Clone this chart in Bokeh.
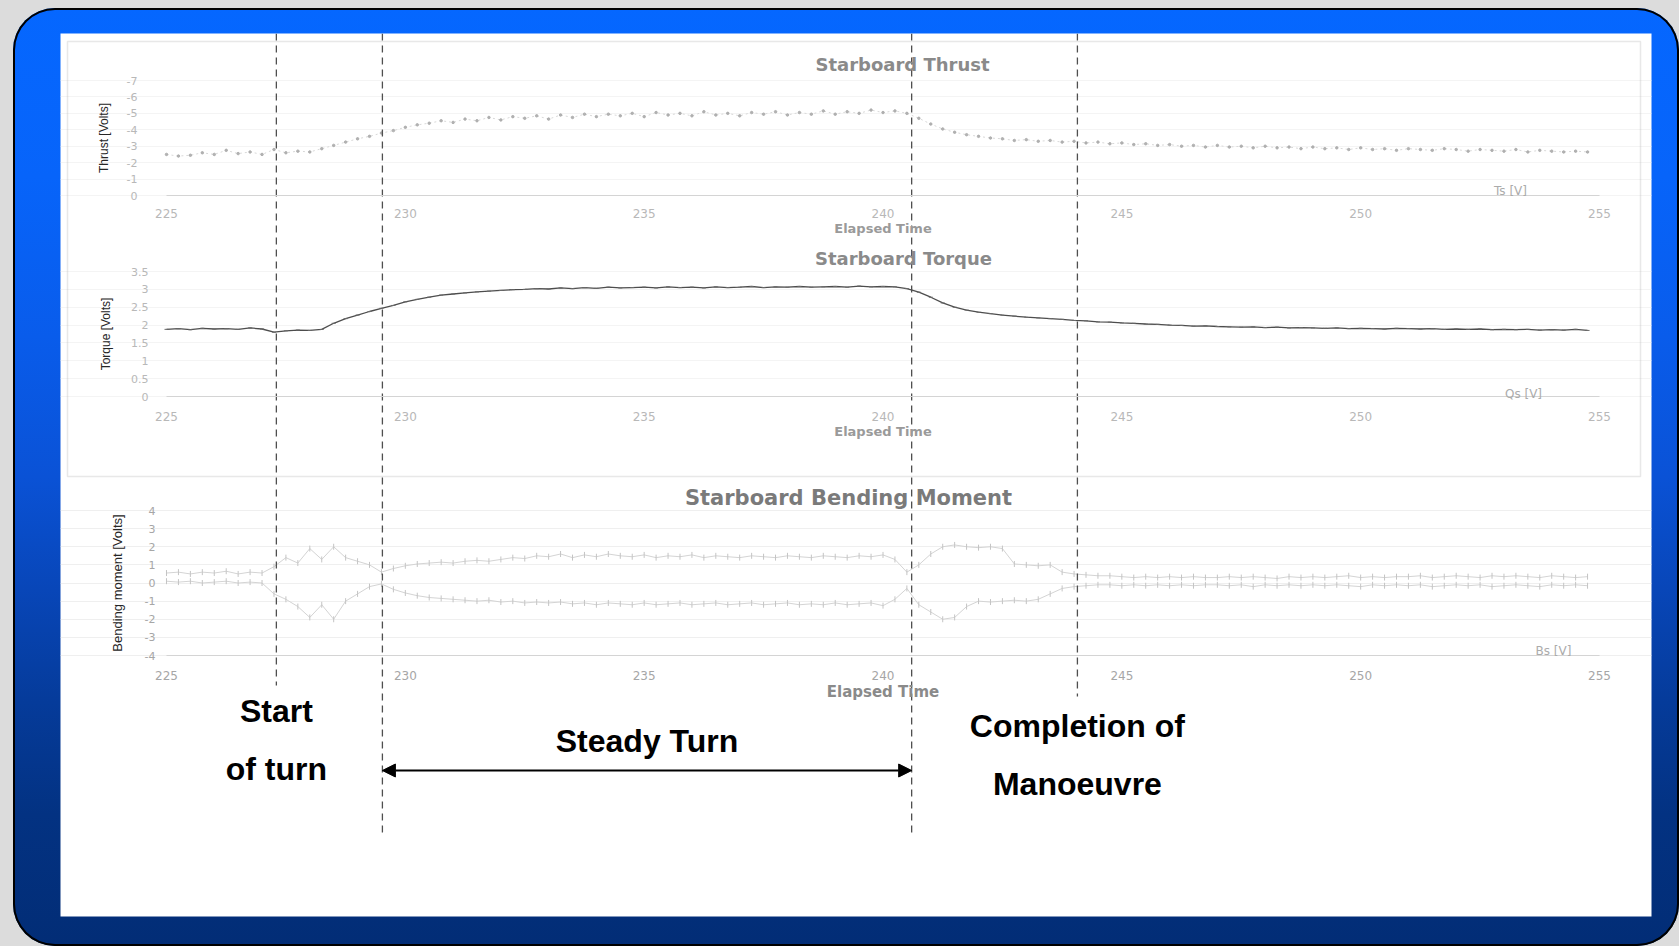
import numpy as np
from bokeh.plotting import figure
from bokeh.layouts import column
from bokeh.models import (Range1d, LinearAxis, FixedTicker, Grid, Label, Arrow,
                          NormalHead, BoxAnnotation, NumeralTickFormatter)
from bokeh.core.properties import value
from bokeh.embed import file_html
from bokeh.resources import INLINE

# ---------------- data ----------------
time_s = np.arange(225.0, 255.0, 0.25)          # sample times, 120 samples

thrust_v = [
    -2.5, -2.4, -2.45, -2.6, -2.5, -2.75, -2.55, -2.65,
    -2.5, -2.8, -2.6, -2.7, -2.65, -2.85, -3.05, -3.25,
    -3.45, -3.6, -3.8, -3.95, -4.15, -4.3, -4.4, -4.55,
    -4.45, -4.65, -4.55, -4.75, -4.6, -4.8, -4.7, -4.85,
    -4.65, -4.9, -4.75, -4.95, -4.8, -4.95, -4.85, -5.0,
    -4.8, -5.05, -4.9, -5.0, -4.85, -5.1, -4.9, -5.0,
    -4.85, -5.05, -4.95, -5.1, -4.9, -5.05, -4.95, -5.15,
    -4.95, -5.1, -5.0, -5.2, -5.05, -5.15, -5.0, -4.7,
    -4.35, -4.05, -3.85, -3.7, -3.6, -3.5, -3.45, -3.35,
    -3.4, -3.3, -3.35, -3.25, -3.3, -3.2, -3.25, -3.15,
    -3.2, -3.1, -3.15, -3.05, -3.1, -3.0, -3.05, -2.95,
    -3.05, -2.95, -3.0, -2.9, -3.0, -2.9, -2.95, -2.85,
    -2.95, -2.85, -2.9, -2.8, -2.9, -2.8, -2.85, -2.75,
    -2.85, -2.8, -2.75, -2.85, -2.8, -2.7, -2.8, -2.75,
    -2.7, -2.8, -2.65, -2.75, -2.7, -2.65, -2.7, -2.65,
]

torque_v = [
    1.88, 1.90, 1.87, 1.91, 1.89, 1.90, 1.88, 1.92,
    1.89, 1.80, 1.84, 1.86, 1.85, 1.88, 2.05, 2.18,
    2.28, 2.38, 2.47, 2.55, 2.65, 2.72, 2.78, 2.84,
    2.87, 2.90, 2.93, 2.95, 2.97, 2.99, 3.00, 3.02,
    3.01, 3.04, 3.02, 3.05, 3.03, 3.06, 3.04, 3.05,
    3.06, 3.04, 3.07, 3.05, 3.06, 3.04, 3.07, 3.05,
    3.06, 3.08, 3.05, 3.07, 3.06, 3.08, 3.06, 3.07,
    3.08, 3.06, 3.09, 3.07, 3.08, 3.07, 3.02, 2.92,
    2.78, 2.62, 2.50, 2.42, 2.36, 2.32, 2.28, 2.25,
    2.22, 2.20, 2.18, 2.16, 2.13, 2.12, 2.09, 2.08,
    2.06, 2.05, 2.03, 2.02, 2.00, 1.99, 1.97, 1.98,
    1.96, 1.95, 1.94, 1.95, 1.93, 1.94, 1.92, 1.93,
    1.92, 1.91, 1.92, 1.90, 1.91, 1.90, 1.89, 1.91,
    1.90, 1.89, 1.90, 1.88, 1.89, 1.88, 1.89, 1.87,
    1.88, 1.87, 1.88, 1.86, 1.87, 1.86, 1.88, 1.85,
]

bend_upper = [
    0.55, 0.6, 0.5, 0.6, 0.55, 0.65, 0.5, 0.6,
    0.55, 0.9, 1.4, 1.1, 1.9, 1.3, 2.0, 1.4,
    1.2, 1.0, 0.6, 0.8, 0.95, 1.05, 1.1, 1.15,
    1.1, 1.2, 1.25, 1.2, 1.3, 1.4, 1.35, 1.5,
    1.45, 1.6, 1.4, 1.55, 1.45, 1.6, 1.5, 1.45,
    1.55, 1.4, 1.5, 1.45, 1.55, 1.4, 1.5, 1.45,
    1.4, 1.5, 1.45, 1.4, 1.5, 1.45, 1.4, 1.5,
    1.45, 1.4, 1.5, 1.45, 1.55, 1.3, 0.6, 1.0,
    1.6, 2.0, 2.1, 2.0, 1.95, 2.0, 1.9, 1.05,
    1.0, 0.95, 1.0, 0.6, 0.5, 0.45, 0.4, 0.4,
    0.35, 0.3, 0.35, 0.3, 0.35, 0.3, 0.35, 0.3,
    0.3, 0.35, 0.3, 0.35, 0.3, 0.25, 0.35, 0.3,
    0.35, 0.3, 0.35, 0.4, 0.3, 0.35, 0.3, 0.35,
    0.35, 0.4, 0.3, 0.35, 0.4, 0.35, 0.3, 0.4,
    0.35, 0.4, 0.35, 0.3, 0.4, 0.35, 0.3, 0.35,
]

bend_lower = [
    0.1, 0.05, 0.1, 0.0, 0.05, 0.1, 0.0, 0.05,
    0.0, -0.6, -0.9, -1.3, -1.9, -1.2, -2.0, -1.0,
    -0.6, -0.2, -0.05, -0.35, -0.55, -0.7, -0.8, -0.85,
    -0.9, -0.95, -1.0, -0.95, -1.05, -1.0, -1.1, -1.05,
    -1.1, -1.05, -1.15, -1.1, -1.2, -1.1, -1.15, -1.2,
    -1.1, -1.2, -1.15, -1.1, -1.2, -1.15, -1.1, -1.2,
    -1.15, -1.1, -1.2, -1.15, -1.1, -1.2, -1.15, -1.2,
    -1.1, -1.2, -1.15, -1.1, -1.25, -0.9, -0.3, -1.2,
    -1.6, -2.0, -1.9, -1.3, -1.0, -1.05, -1.0, -0.95,
    -1.0, -0.9, -0.6, -0.3, -0.2, -0.15, -0.1, -0.1,
    -0.15, -0.1, -0.15, -0.1, -0.15, -0.1, -0.15, -0.1,
    -0.1, -0.15, -0.1, -0.2, -0.1, -0.15, -0.1, -0.15,
    -0.1, -0.15, -0.1, -0.15, -0.2, -0.1, -0.15, -0.1,
    -0.15, -0.1, -0.2, -0.15, -0.1, -0.15, -0.1, -0.2,
    -0.15, -0.1, -0.15, -0.2, -0.1, -0.15, -0.1, -0.15,
]

event_times = [227.3, 229.52, 240.6, 244.07]   # start of turn, steady start, steady end, completion
time_ticks = [225, 230, 235, 240, 245, 250, 255]
thrust_ticks = [-7, -6, -5, -4, -3, -2, -1, 0]
torque_ticks = [0, 0.5, 1, 1.5, 2, 2.5, 3, 3.5]
bend_ticks = [-4, -3, -2, -1, 0, 1, 2, 3, 4]

# ---------------- layout (page pixels) ----------------
OX, OY = 13, 8                               # outer frame origin on the page
W, H = 1666, 938
PL, PT, PR, PB = 60, 33, 1651, 916          # white area on the page
X225, X255 = 166, 1599
kx = (X255 - X225) / 30.0


def t_at(px):
    return 225 + (px - X225) / kx


def band(va, pa, vb, pb):
    s = (vb - va) / (pb - pa)
    return Range1d(start=va + (PB - pa) * s, end=va + (PT - pa) * s)


frame_css = {
    "background": "linear-gradient(180deg, #0567ff 0%, #0764fa 18%, #095ceb 35%, "
                  "#0a52d6 50%, #0846b8 62%, #053b9a 74%, #033282 86%, #022d76 100%)",
    "border-radius": "42px",
    "box-shadow": "inset 0 0 0 2px #000000",
}

p = figure(width=W, height=H,
           x_range=Range1d(t_at(PL), t_at(PR)), y_range=Range1d(PB, PT),
           x_axis_location=None, y_axis_location=None,
           toolbar_location=None, output_backend="svg",
           min_border_left=PL - OX, min_border_top=PT - OY,
           min_border_right=W - (PR - OX), min_border_bottom=H - (PB - OY),
           background_fill_color="white", border_fill_alpha=0,
           outline_line_color=None, margin=(OY, 0, 0, OX), styles=frame_css)
p.xgrid.visible = False
p.ygrid.visible = False

p.extra_x_ranges = {"px": Range1d(PL, PR)}
p.extra_y_ranges = {
    "thrust": band(0, 195, -7, 80),
    "torque": band(0, 396, 3.5, 271),
    "bend": band(-4, 655, 4, 510),
}

# gray box around the thrust and torque charts
p.add_layout(BoxAnnotation(left=67, right=1640, top=41, bottom=476, x_range_name="px",
                           fill_alpha=0, line_color="#b4b4b4", line_width=1.5))

TICK_FONT = "DejaVu Sans"
LAB_FONT = "Liberation Sans"


def add_panel(rname, yticks, ybounds, x_axis_at, yaxis_px, ylabel, ylab_size, ylab_standoff,
              tick_color, xlab_standoff, xlab_size, xlab_color, title, title_xy, title_size,
              title_color, legend, legend_xy, grid_color):
    g = Grid(dimension=1, ticker=FixedTicker(ticks=yticks), y_range_name=rname,
             bounds=(t_at(yaxis_px + 4), 255), grid_line_color=grid_color)
    p.add_layout(g)
    ya = LinearAxis(y_range_name=rname, fixed_location=t_at(yaxis_px), bounds=ybounds,
                    ticker=FixedTicker(ticks=yticks),
                    formatter=NumeralTickFormatter(format="0.[0]"),
                    axis_line_color=None, major_tick_line_color=None,
                    minor_tick_line_color=None, major_label_standoff=5,
                    major_label_text_color=tick_color, major_label_text_font=TICK_FONT,
                    major_label_text_font_size="11px",
                    axis_label=ylabel, axis_label_text_font=LAB_FONT,
                    axis_label_text_font_style="normal", axis_label_text_color="#262626",
                    axis_label_text_font_size=ylab_size, axis_label_standoff=ylab_standoff)
    p.add_layout(ya, "left")
    xa = LinearAxis(y_range_name=rname, fixed_location=x_axis_at, bounds=(225, 255),
                    ticker=FixedTicker(ticks=time_ticks),
                    formatter=NumeralTickFormatter(format="0"),
                    axis_line_color="#d4d4d4", axis_line_width=1.2,
                    major_tick_line_color=None, minor_tick_line_color=None,
                    major_label_standoff=xlab_standoff, major_label_text_color=tick_color,
                    major_label_text_font=TICK_FONT, major_label_text_font_size="12px",
                    axis_label="Elapsed Time", axis_label_text_font=TICK_FONT,
                    axis_label_text_font_style="bold", axis_label_text_color=xlab_color,
                    axis_label_text_font_size=xlab_size, axis_label_standoff=0)
    p.add_layout(xa, "below")
    p.add_layout(Label(x=title_xy[0], y=title_xy[1], x_range_name="px", text=title,
                       text_align="center", text_baseline="middle", text_font=TICK_FONT,
                       text_font_style="bold", text_font_size=title_size,
                       text_color=title_color))
    p.add_layout(Label(x=legend_xy[0], y=legend_xy[1], x_range_name="px", text=legend,
                       text_align="center", text_baseline="middle", text_font=TICK_FONT,
                       text_font_size="12px", text_color="#ababab"))


add_panel("thrust", thrust_ticks, (-7, 0), 0, 148, "Thrust [Volts]", "12px", 13,
          "#b8b8b8", 7, "13px", "#9a9a9a", "Starboard Thrust", (902, 64), "18px",
          "#8a8a8a", "Ts [V]", (1510, 190), "#f4f4f4")
add_panel("torque", torque_ticks, (0, 3.5), 0, 159, "Torque [Volts]", "12px", 15,
          "#b8b8b8", 9, "13px", "#9a9a9a", "Starboard Torque", (903, 258), "18px",
          "#8a8a8a", "Qs [V]", (1523, 393), "#f4f4f4")
add_panel("bend", bend_ticks, (-4, 4), -4, 166, "Bending moment [Volts]", "13px", 17,
          "#a6a6a6", 9, "15px", "#8a8a8a", "Starboard Bending Moment", (848, 497), "21px",
          "#7a7a7a", "Bs [V]", (1553, 650), "#efefef")

# series
p.line(time_s, thrust_v, y_range_name="thrust", line_color="#d8d8d8", line_width=1,
       line_dash="2 3")
p.scatter(time_s, thrust_v, y_range_name="thrust", size=2.5, color="#ababab", alpha=0.9)
p.line(time_s, torque_v, y_range_name="torque", line_color="#4d4d4d", line_width=1.3)
p.scatter(time_s, torque_v, y_range_name="torque", marker="dash", size=4, color="#6a6a6a")
p.line(time_s, bend_upper, y_range_name="bend", line_color="#d4d4d4", line_width=1)
p.line(time_s, bend_lower, y_range_name="bend", line_color="#d4d4d4", line_width=1)
p.scatter(time_s, bend_upper, y_range_name="bend", marker="dash", angle=1.5708, size=6,
          color="#c4c4c4")
p.scatter(time_s, bend_lower, y_range_name="bend", marker="dash", angle=1.5708, size=6,
          color="#c4c4c4")

# event lines (page-pixel ends)
line_ends = [685, 833, 833, 696]
p.segment(x0=event_times, x1=event_times, y0=[PT] * 4, y1=line_ends,
          line_color="#4f4f4f", line_width=1.3, line_dash="7 5")

# annotations
steady_mid = (event_times[1] + event_times[2]) / 2
p.text(x=[event_times[0], event_times[0], steady_mid, event_times[3], event_times[3]],
       y=[710, 768, 740, 725, 783],
       text=["Start", "of turn", "Steady Turn", "Completion of", "Manoeuvre"],
       text_align="center", text_baseline="middle", text_font=value(LAB_FONT),
       text_font_style="bold", text_font_size="32px", text_color="#000000")
p.add_layout(Arrow(start=NormalHead(size=13, fill_color="black", line_color="black"),
                   end=NormalHead(size=13, fill_color="black", line_color="black"),
                   x_start=event_times[1], y_start=770, x_end=event_times[2], y_end=770,
                   line_width=2, line_color="black"))

root = column(p, styles={"background-color": "#dcdcdc"})
open("out.html", "w").write(file_html(root, INLINE))
